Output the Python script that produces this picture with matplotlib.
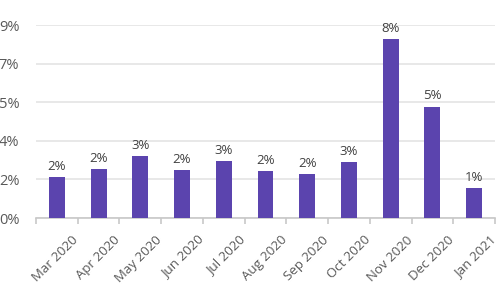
import matplotlib
matplotlib.use("Agg")
import matplotlib.pyplot as plt
import matplotlib.transforms as mtransforms
import numpy as np

months = ["Mar 2020", "Apr 2020", "May 2020", "Jun 2020", "Jul 2020", "Aug 2020",
          "Sep 2020", "Oct 2020", "Nov 2020", "Dec 2020", "Jan 2021"]
values = [1.9, 2.3, 2.9, 2.25, 2.65, 2.2, 2.05, 2.6, 8.35, 5.2, 1.4]
yticks = [0, 1.8, 3.6, 5.4, 7.2, 9.0]

plt.rcParams['font.family'] = ['Open Sans', 'DejaVu Sans']

fig = plt.figure(figsize=(5, 3), dpi=100)
ax = fig.add_axes([0.072, 0.2733, 0.918, 0.6433])

x = np.arange(len(months))
bars = ax.bar(x, values, width=0.38, color='#5b44ae', zorder=3)
ax.bar_label(bars, labels=[f"{round(v)}%" for v in values], padding=3,
             fontsize=9.5, color='#404040', clip_on=False)

ax.set_xlim(-0.5, len(months) - 0.5)
ax.set_ylim(0, 9.0)
ax.set_yticks(yticks)
ax.set_yticklabels([f"{round(t)}%" for t in yticks])
ax.grid(axis='y', color='#e4e4e4', linewidth=1.2, zorder=0)
ax.tick_params(axis='y', length=0, pad=12, labelsize=10.5, labelcolor='#595959')

for s in ['top', 'right', 'left']:
    ax.spines[s].set_visible(False)
ax.spines['bottom'].set_color('#c8c8c8')
ax.spines['bottom'].set_linewidth(1.2)

ax.set_xticks(x)
ax.set_xticklabels(months, rotation=45, ha='right', rotation_mode='anchor',
                   fontsize=9.5, color='#595959')
ax.tick_params(axis='x', length=0, pad=11)
offset = mtransforms.ScaledTranslation(15 / 100, 0, fig.dpi_scale_trans)
for lab in ax.get_xticklabels():
    lab.set_transform(lab.get_transform() + offset)

ax.set_xticks(np.arange(-0.5, len(months), 1), minor=True)
ax.tick_params(axis='x', which='minor', length=4, color='#c8c8c8', width=1.2)

fig.savefig("out.png", dpi=100)
